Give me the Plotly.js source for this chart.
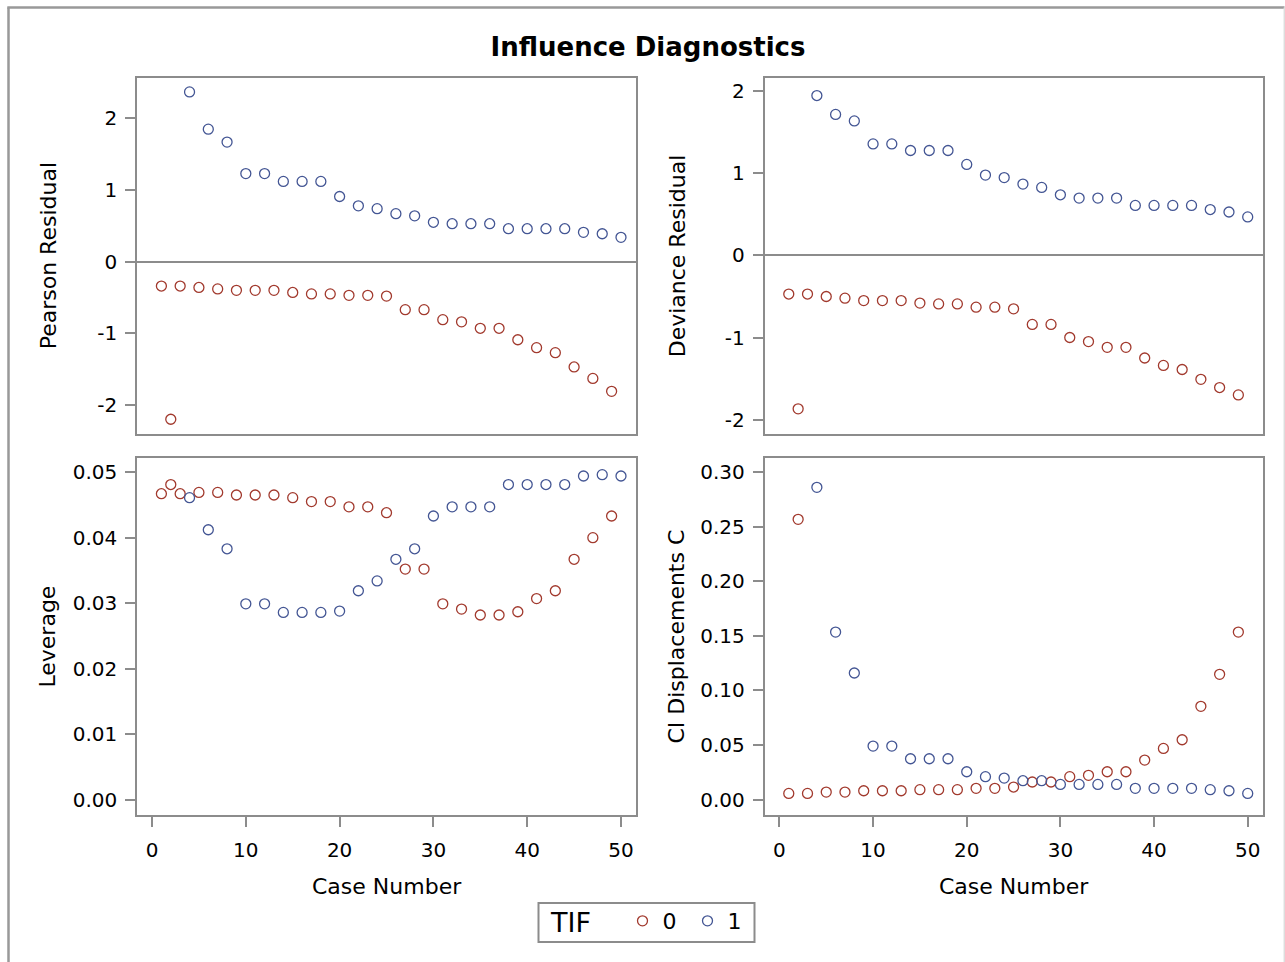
<!DOCTYPE html>
<html>
<head>
<meta charset="utf-8">
<script src="https://cdn.plot.ly/plotly-3.0.1.min.js"></script>
<style>
  html, body { margin: 0; padding: 0; background: #fff; }
  #chart { width: 1285px; height: 962px; }
</style>
</head>
<body>
<div id="chart"></div>
<script>
// ---- Data ----
const caseTIF0 = [1,2,3,5,7,9,11,13,15,17,19,21,23,25,27,29,31,33,35,37,39,41,43,45,47,49];
const caseTIF1 = [4,6,8,10,12,14,16,18,20,22,24,26,28,30,32,34,36,38,40,42,44,46,48,50];

const pearson0 = [-0.34,-2.20,-0.34,-0.36,-0.38,-0.40,-0.40,-0.40,-0.43,-0.45,-0.45,-0.47,-0.47,-0.48,-0.67,-0.67,-0.81,-0.84,-0.93,-0.93,-1.09,-1.20,-1.27,-1.47,-1.63,-1.81];
const pearson1 = [2.37,1.85,1.67,1.23,1.23,1.12,1.12,1.12,0.91,0.78,0.74,0.67,0.64,0.55,0.53,0.53,0.53,0.46,0.46,0.46,0.46,0.41,0.39,0.34];

const deviance0 = [-0.47,-1.87,-0.47,-0.50,-0.52,-0.55,-0.55,-0.55,-0.58,-0.59,-0.59,-0.63,-0.63,-0.65,-0.84,-0.84,-1.00,-1.05,-1.12,-1.12,-1.25,-1.34,-1.39,-1.51,-1.61,-1.70];
const deviance1 = [1.95,1.72,1.64,1.36,1.36,1.28,1.28,1.28,1.11,0.98,0.95,0.87,0.83,0.74,0.70,0.70,0.70,0.61,0.61,0.61,0.61,0.56,0.53,0.47];

const leverage0 = [0.0467,0.0481,0.0467,0.0469,0.0469,0.0465,0.0465,0.0465,0.0461,0.0455,0.0455,0.0447,0.0447,0.0438,0.0352,0.0352,0.0299,0.0291,0.0282,0.0282,0.0287,0.0307,0.0319,0.0367,0.0400,0.0433];
const leverage1 = [0.0461,0.0412,0.0383,0.0299,0.0299,0.0286,0.0286,0.0286,0.0288,0.0319,0.0334,0.0367,0.0383,0.0433,0.0447,0.0447,0.0447,0.0481,0.0481,0.0481,0.0481,0.0494,0.0496,0.0494];

const ciDisp0 = [0.0058,0.2567,0.0058,0.0070,0.0070,0.0082,0.0082,0.0082,0.0092,0.0092,0.0092,0.0104,0.0104,0.0116,0.0162,0.0162,0.0211,0.0223,0.0256,0.0256,0.0363,0.0470,0.0549,0.0855,0.1148,0.1535];
const ciDisp1 = [0.2860,0.1535,0.1160,0.0491,0.0491,0.0375,0.0375,0.0375,0.0256,0.0211,0.0198,0.0174,0.0174,0.0140,0.0140,0.0140,0.0140,0.0104,0.0104,0.0104,0.0104,0.0092,0.0082,0.0058];

const xTickVals = [0,10,20,30,40,50];
const xTickText = ['0','10','20','30','40','50'];
const residTickVals = [-2,-1,0,1,2];
const residTickText = ['-2','-1','0','1','2'];
const levTickVals = [0,0.01,0.02,0.03,0.04,0.05];
const levTickText = ['0.00','0.01','0.02','0.03','0.04','0.05'];
const ciTickVals = [0,0.05,0.10,0.15,0.20,0.25,0.30];
const ciTickText = ['0.00','0.05','0.10','0.15','0.20','0.25','0.30'];

const groupNames = ['0','1'];
const titleText = 'Influence Diagnostics';
const legendTitle = 'TIF';

// ---- Styles ----
const RED = '#A23A2E', BLUE = '#445694', FRAME = '#8c8c8c';
const FONT = 'DejaVu Sans';
const W = 1285, H = 962;
const px = v => v / W;
const py = v => 1 - v / H;

function mk(x, y, color, name, xa, ya, show) {
  return {
    type: 'scatter', mode: 'markers', x: x, y: y, name: name,
    legendgroup: name, showlegend: show, xaxis: xa, yaxis: ya,
    marker: { symbol: 'circle-open', size: 10, color: color, line: { width: 1.3, color: color } },
    hoverinfo: 'x+y'
  };
}

const traces = [
  mk(caseTIF0, pearson0, RED, groupNames[0], 'x', 'y', true),
  mk(caseTIF1, pearson1, BLUE, groupNames[1], 'x', 'y', true),
  mk(caseTIF0, deviance0, RED, groupNames[0], 'x2', 'y2', false),
  mk(caseTIF1, deviance1, BLUE, groupNames[1], 'x2', 'y2', false),
  mk(caseTIF0, leverage0, RED, groupNames[0], 'x3', 'y3', false),
  mk(caseTIF1, leverage1, BLUE, groupNames[1], 'x3', 'y3', false),
  mk(caseTIF0, ciDisp0, RED, groupNames[0], 'x4', 'y4', false),
  mk(caseTIF1, ciDisp1, BLUE, groupNames[1], 'x4', 'y4', false)
];

const leftDom = [px(137.3), px(636)];
const rightDom = [px(764.7), px(1262.7)];
const topDom = [py(434.3), py(78.3)];
const botDom = [py(815), py(458.3)];
const xRange = [-1.57, 51.6];

function xAx(dom, anchor, labels) {
  return {
    domain: dom, anchor: anchor, range: xRange, showgrid: false, zeroline: false,
    showline: true, mirror: true, linecolor: FRAME, linewidth: 2,
    ticks: labels ? 'outside' : '', ticklen: 10, tickwidth: 2, tickcolor: FRAME,
    showticklabels: labels, tickmode: 'array', tickvals: xTickVals, ticktext: xTickText,
    tickfont: { size: 20, color: '#000', family: FONT }, ticklabelstandoff: 6
  };
}
function yAx(dom, anchor, range, tv, tt, zero) {
  return {
    domain: dom, anchor: anchor, range: range, showgrid: false,
    zeroline: zero, zerolinecolor: FRAME, zerolinewidth: 2,
    showline: true, mirror: true, linecolor: FRAME, linewidth: 2,
    ticks: 'outside', ticklen: 10, tickwidth: 2, tickcolor: FRAME,
    tickmode: 'array', tickvals: tv, ticktext: tt,
    tickfont: { size: 20, color: '#000', family: FONT }, ticklabelstandoff: 4
  };
}

function yTitle(text, x, y) {
  return { text: text, xref: 'paper', yref: 'paper', x: x, y: y, xanchor: 'center', yanchor: 'middle',
           textangle: -90, showarrow: false, font: { size: 22, color: '#000', family: FONT } };
}
function xTitle(text, x, y) {
  return { text: text, xref: 'paper', yref: 'paper', x: x, y: y, xanchor: 'center', yanchor: 'middle',
           showarrow: false, font: { size: 22, color: '#000', family: FONT } };
}

const layout = {
  width: W, height: H,
  margin: { l: 0, r: 0, t: 0, b: 0 },
  paper_bgcolor: '#fff', plot_bgcolor: '#fff',
  font: { family: FONT, color: '#000' },
  title: { text: '<b>' + titleText + '</b>', x: px(648), xanchor: 'center', xref: 'paper',
           y: py(47), yanchor: 'middle', yref: 'container', font: { size: 26, color: '#000', family: FONT } },
  xaxis: xAx(leftDom, 'y', false),
  yaxis: yAx(topDom, 'x', [-2.41, 2.56], residTickVals, residTickText, true),
  xaxis2: xAx(rightDom, 'y2', false),
  yaxis2: yAx(topDom, 'x2', [-2.18, 2.16], residTickVals, residTickText, true),
  xaxis3: xAx(leftDom, 'y3', true),
  yaxis3: yAx(botDom, 'x3', [-0.0023, 0.0521], levTickVals, levTickText, false),
  xaxis4: xAx(rightDom, 'y4', true),
  yaxis4: yAx(botDom, 'x4', [-0.014, 0.3126], ciTickVals, ciTickText, false),
  showlegend: true,
  legend: {
    orientation: 'h', x: px(622.5), xanchor: 'left', y: py(900), yanchor: 'top',
    borderwidth: 0, bgcolor: 'rgba(0,0,0,0)',
    font: { size: 22, color: '#000', family: FONT },
    traceorder: 'normal', entrywidth: 20
  },
  annotations: [
    yTitle('Pearson Residual', px(48), py(256.3)),
    yTitle('Deviance Residual', px(677), py(256.3)),
    yTitle('Leverage', px(48), py(636.6)),
    yTitle('CI Displacements C', px(677), py(636.6)),
    xTitle('Case Number', px(386.7), py(886)),
    xTitle('Case Number', px(1013.7), py(886)),
    { text: legendTitle, xref: 'paper', yref: 'paper', x: px(548), y: py(922.5), xanchor: 'left', yanchor: 'middle',
      showarrow: false, font: { size: 27, color: '#000', family: FONT } }
  ],
  shapes: [
    { type: 'line', xref: 'paper', yref: 'paper', x0: px(8.5), x1: px(8.5), y0: py(7.5), y1: py(965), line: { color: '#999', width: 2.5 } },
    { type: 'line', xref: 'paper', yref: 'paper', x0: px(7.3), x1: px(1284.5), y0: py(7.5), y1: py(7.5), line: { color: '#999', width: 2.5 } },
    { type: 'line', xref: 'paper', yref: 'paper', x0: px(1284.3), x1: px(1284.3), y0: py(7.5), y1: py(965), line: { color: '#ddd', width: 1.5 } },
    { type: 'rect', xref: 'paper', yref: 'paper', x0: px(538.5), x1: px(754.5), y0: py(942), y1: py(903), line: { color: FRAME, width: 2 }, fillcolor: 'rgba(0,0,0,0)' }
  ]
};

Plotly.newPlot('chart', traces, layout, { displayModeBar: false, responsive: false });
</script>
</body>
</html>
